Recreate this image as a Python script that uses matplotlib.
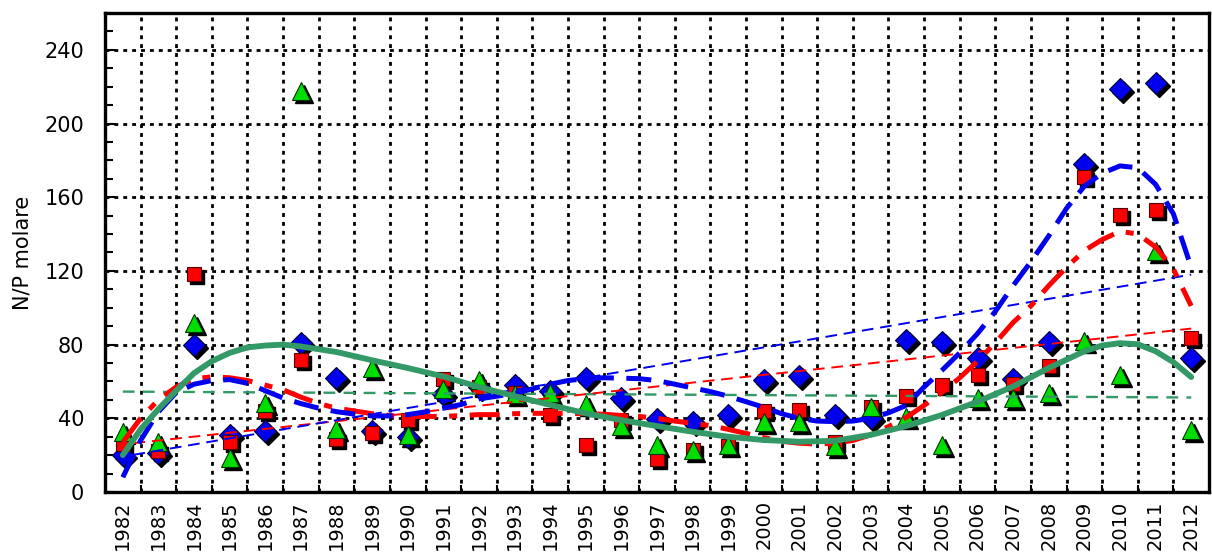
import numpy as np
import matplotlib.pyplot as plt
from matplotlib.transforms import offset_copy

plt.rcParams['font.family'] = ['DejaVu Sans']

years = list(range(1982, 2013))

# measured N/P (three series)
blue = [20, 21, 80, 31, 33, 81, 62, 33, 30, 53, 57, 58, 55, 62, 51, 39.5, 38, 42, 61, 63,
        42, 40, 82.5, 81.5, 72.5, 61.5, 81.5, 178, 219, 222, 73]
red = [26, 22, 118.5, 27, 44, 71.5, 29, 32, 39, 61.5, 57, 54, 42, 25.5, 39, 18, 23, 25, 44, 44.5,
       27, 46, 52, 58, 63.5, 58.5, 68.5, 171, 150.5, 153, 83.5]
green = [32.5, 27, 92, 18.5, 48.5, 217.5, 34, 67.5, 31, 56, 61, 53, 53.5, 48, 36, 25.5, 23, 25.5, 38, 38,
         25, 46, 40.5, 25.5, 51, 51, 54, 82, 63.5, 131, 33.5]

half_years = [1982 + i * 0.5 for i in range(61)]
blue_smooth = [8, 28, 43.5, 54, 58.5, 60.5, 61, 59, 55, 51, 48, 45.5, 43.6, 42.3, 41.3, 41.3,
               42, 43.5, 45.5, 47.5, 50.5, 52, 53.5, 56, 58.5, 60.5, 61.5, 62, 61.8, 61.5,
               60.5, 58.5, 56.5, 54.5, 52, 49, 46, 42.5, 40, 38.5, 38.2, 38.5, 40, 43, 47,
               57, 66, 75.5, 86, 98, 112, 125, 139, 154, 166, 173, 177, 176, 167, 151, 122]
red_smooth = [27, 40, 50, 57, 61.5, 62.5, 62, 60.5, 58, 55.5, 51.5, 48, 45.5, 44, 42.5, 41.5,
              41, 41, 41, 41.5, 42, 42, 42.5, 42.7, 42.7, 42.7, 42.5, 42.2, 41.5, 41,
              40, 38.5, 37.3, 36, 34, 31.8, 29.5, 27.5, 26.5, 26, 26.5, 28, 31, 35.5, 40.5,
              47, 54, 62, 71, 81, 92, 101, 112, 122, 131, 137, 141.5, 140, 133, 121, 101]

green_fit_x = [1982, 1982.5, 1983, 1983.5, 1984, 1984.5, 1985, 1985.5, 1986, 1986.5, 1987,
               1988, 1989, 1990, 1991, 1992, 1993, 1994, 1995, 1996, 1997, 1998, 1999, 2000,
               2001, 2002, 2003, 2004, 2005, 2006, 2007, 2008, 2009, 2009.5, 2010, 2010.5,
               2011, 2011.5, 2012]
green_fit = [20, 34, 45, 55, 64.5, 71, 75.5, 78.5, 79.5, 80, 79, 76, 71.5, 67.3, 62.7, 57,
             52, 47.3, 42.7, 39, 35.8, 32.7, 30, 28.2, 27.3, 27.8, 31, 35.8, 41.8, 49, 57.3,
             67.3, 76.4, 79.5, 80.8, 80.2, 76.4, 70.5, 62.4]

# linear trends (end points)
trend_x = [1982.3, 2012]
blue_trend = [20.2, 118]
red_trend = [26.5, 88.7]
green_trend_x = [1982, 2012]
green_trend = [54.5, 51.3]

fig = plt.figure(figsize=(12.12, 5.56), dpi=100)
ax = fig.add_axes([105 / 1212, 64 / 556, 1104 / 1212, 479 / 556])

shadow = offset_copy(ax.transData, fig=fig, x=3, y=-3, units='dots')
for vals, mk, ms in [(blue, 'D', 11.5), (red, 's', 10.5), (green, '^', 13.5)]:
    ax.plot(years, vals, mk, ms=ms, color='black', mec='black', transform=shadow, zorder=3)

ax.plot(years, blue, 'D', ms=11.5, color='#0000ee', mec='#000033', mew=0.8, zorder=4)
ax.plot(years, red, 's', ms=10.5, color='#ff0000', mec='#550000', mew=0.8, zorder=4)
ax.plot(years, green, '^', ms=13.5, color='#00dd00', mec='#003300', mew=0.8, zorder=4)

ax.plot(green_trend_x, green_trend, color='#339966', lw=1.7, dashes=(5, 3.5), zorder=5)
ax.plot(trend_x, red_trend, color='#ff0000', lw=1.4, dashes=(6, 3.5), zorder=5)
ax.plot(trend_x, blue_trend, color='#0000ee', lw=1.4, dashes=(6, 3.5), zorder=5)

ax.plot(half_years, red_smooth, color='#ff0000', lw=3.6, dashes=(6, 2.5, 1.6, 2.5), zorder=6)
ax.plot(half_years, blue_smooth, color='#0000ee', lw=3.6, dashes=(5, 2.5), zorder=6)
ax.plot(green_fit_x, green_fit, color='#339966', lw=4.2, solid_capstyle='round', zorder=7)

ax.set_xlim(1981.5, 2012.5)
ax.set_ylim(0, 260)
ax.set_xticks(years)
ax.set_xticklabels([str(y) for y in years], rotation=90, fontsize=14)
ax.set_xticks([y + 0.5 for y in years[:-1]], minor=True)
ax.set_yticks(range(0, 241, 40))
ax.set_yticks(range(0, 261, 10), minor=True)
ax.tick_params(axis='x', which='major', length=0, pad=6)
ax.tick_params(axis='x', which='minor', direction='in', length=5, width=1.5)
ax.tick_params(axis='y', which='both', direction='in', width=1.5, labelsize=15, pad=15)
ax.tick_params(axis='y', which='major', length=7)
ax.tick_params(axis='y', which='minor', length=6)

ax.grid(which='minor', axis='x', color='black', linestyle=(0, (1.4, 1.8)), lw=2)
ax.grid(which='major', axis='y', color='black', linestyle=(0, (1.4, 1.8)), lw=2)
ax.set_axisbelow(True)
for s in ax.spines.values():
    s.set_linewidth(2.4)

ax.set_ylabel('N/P molare', fontsize=15)
ax.yaxis.set_label_coords(-0.066, 0.5)

fig.savefig('out.png', dpi=100)
